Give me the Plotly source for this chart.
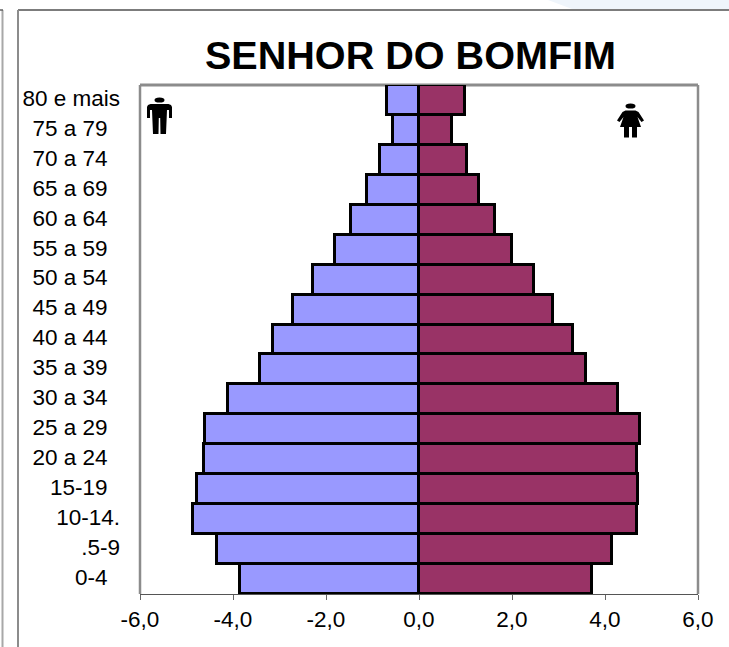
import plotly.graph_objects as go

TITLE = "SENHOR DO BOMFIM"
age_groups = ["0-4", ".5-9", "10-14.", "15-19", "20 a 24", "25 a 29", "30 a 34", "35 a 39", "40 a 44",
              "45 a 49", "50 a 54", "55 a 59", "60 a 64", "65 a 69", "70 a 74", "75 a 79", "80 e mais"]
men = [-3.85, -4.34, -4.87, -4.77, -4.62, -4.60, -4.10, -3.42, -3.14,
       -2.71, -2.28, -1.80, -1.46, -1.12, -0.84, -0.56, -0.69]
women = [3.72, 4.16, 4.69, 4.70, 4.68, 4.75, 4.27, 3.60, 3.32,
         2.88, 2.47, 2.00, 1.64, 1.29, 1.03, 0.72, 0.99]
x_ticks = [-6, -4, -2, 0, 2, 4, 6]
x_tick_labels = ["-6,0", "-4,0", "-2,0", "0,0", "2,0", "4,0", "6,0"]
flush_labels = {"80 e mais", "10-14.", ".5-9"}

W, H = 729, 647
L, R, T, B = 140, 698, 85, 594
px = lambda x: (x - L) / (R - L)
py = lambda y: (B - y) / (B - T)


def path(points):
    return "M " + " L ".join(f"{px(x):.5f} {py(y):.5f}" for x, y in points) + " Z"


def line(x0, y0, x1, y1, color, width, layer="above"):
    return dict(type="line", xref="paper", yref="paper", x0=px(x0), y0=py(y0), x1=px(x1), y1=py(y1),
                line=dict(color=color, width=width), layer=layer)


def blob(points):
    return dict(type="path", xref="paper", yref="paper", path=path(points),
                fillcolor="black", line=dict(color="black", width=0), layer="above")


def head(cx, cy):
    return dict(type="circle", xref="paper", yref="paper", x0=px(cx - 5), x1=px(cx + 5),
                y0=py(cy + 2.6), y1=py(cy - 2.6), fillcolor="black", line=dict(width=0), layer="above")


man_cx = 159.5
man = [(-11.5, 105), (-9, 104), (9, 104), (11.5, 105), (12.5, 107), (12.5, 118), (9.5, 118), (9.5, 110),
       (7.5, 110), (6.5, 134), (1, 134), (0.7, 118), (-0.7, 118), (-1, 134), (-6.5, 134), (-7.5, 110),
       (-9.5, 110), (-9.5, 118), (-12.5, 118), (-12.5, 107)]
woman_cx = 630.5
woman = [(-5, 110.5), (5, 110.5), (8, 112), (13.5, 120.5), (11, 122), (7, 117), (10.5, 127), (6.5, 127),
         (6.5, 137.5), (1.5, 137.5), (1.5, 127), (-1.5, 127), (-1.5, 137.5), (-6.5, 137.5), (-6.5, 127),
         (-10.5, 127), (-7, 117), (-11, 122), (-13.5, 120.5), (-8, 112)]

shapes = [
    dict(type="path", xref="paper", yref="paper",
         path=path([(548, 0), (729, 0), (729, 9), (572, 9)]),
         fillcolor="#eff5fb", line=dict(width=0), layer="below"),
    line(18, 10, 729, 10, "#505050", 1.6),
    line(18, 10, 18, 647, "#8c8c8c", 2),
    line(2.5, 10, 2.5, 647, "#a8a8a8", 2),
    line(0, 10, 3, 10, "#606060", 1.5),
    line(L, T, R, T, "#8c8c8c", 3, "below"),
    line(L, T, L, B, "#8c8c8c", 2.5, "below"),
    line(R, T, R, B, "#8c8c8c", 2.5, "below"),
    blob([(man_cx + x, y) for x, y in man]),
    head(man_cx, 100),
    blob([(woman_cx + x, y) for x, y in woman]),
    head(woman_cx, 106),
]

fig = go.Figure()
for name, vals, color in [("Homens", men, "#9999FF"), ("Mulheres", women, "#993366")]:
    fig.add_bar(y=age_groups, x=vals, name=name, orientation="h", cliponaxis=False,
                marker=dict(color=color, line=dict(color="black", width=3)))

fig.update_layout(
    width=W, height=H, autosize=False, barmode="relative", bargap=0, showlegend=False,
    paper_bgcolor="white", plot_bgcolor="white",
    margin=dict(l=L, r=W - R, t=T, b=H - B, pad=0),
    font=dict(family="Liberation Sans, Arial, sans-serif", size=22.5, color="black"),
    title=dict(text=f"<b>{TITLE}</b>", font=dict(size=39.6), x=410.5 / W, xanchor="center",
               y=1 - 69 / H, yanchor="bottom", pad=dict(b=0)),
    shapes=shapes,
    xaxis=dict(range=[-6, 6], tickmode="array", tickvals=x_ticks, ticktext=x_tick_labels,
               ticks="outside", ticklen=5, tickwidth=1, tickcolor="#666666",
               showline=True, linecolor="#555555", linewidth=1, showgrid=False, zeroline=False),
    yaxis=dict(type="category", categoryorder="array", categoryarray=age_groups,
               tickmode="array", tickvals=age_groups,
               ticktext=[a if a in flush_labels else a + "\u00a0\u00a0" for a in age_groups],
               ticks="", showline=False, showgrid=False, zeroline=False, ticklabelstandoff=19),
)
fig.write_html("out.html", config=dict(displayModeBar=False),
               post_script="document.body.style.margin='0';document.body.style.overflow='hidden';"
                           "document.querySelectorAll('.ytick text').forEach(t=>t.setAttribute('dy','-2'));")
